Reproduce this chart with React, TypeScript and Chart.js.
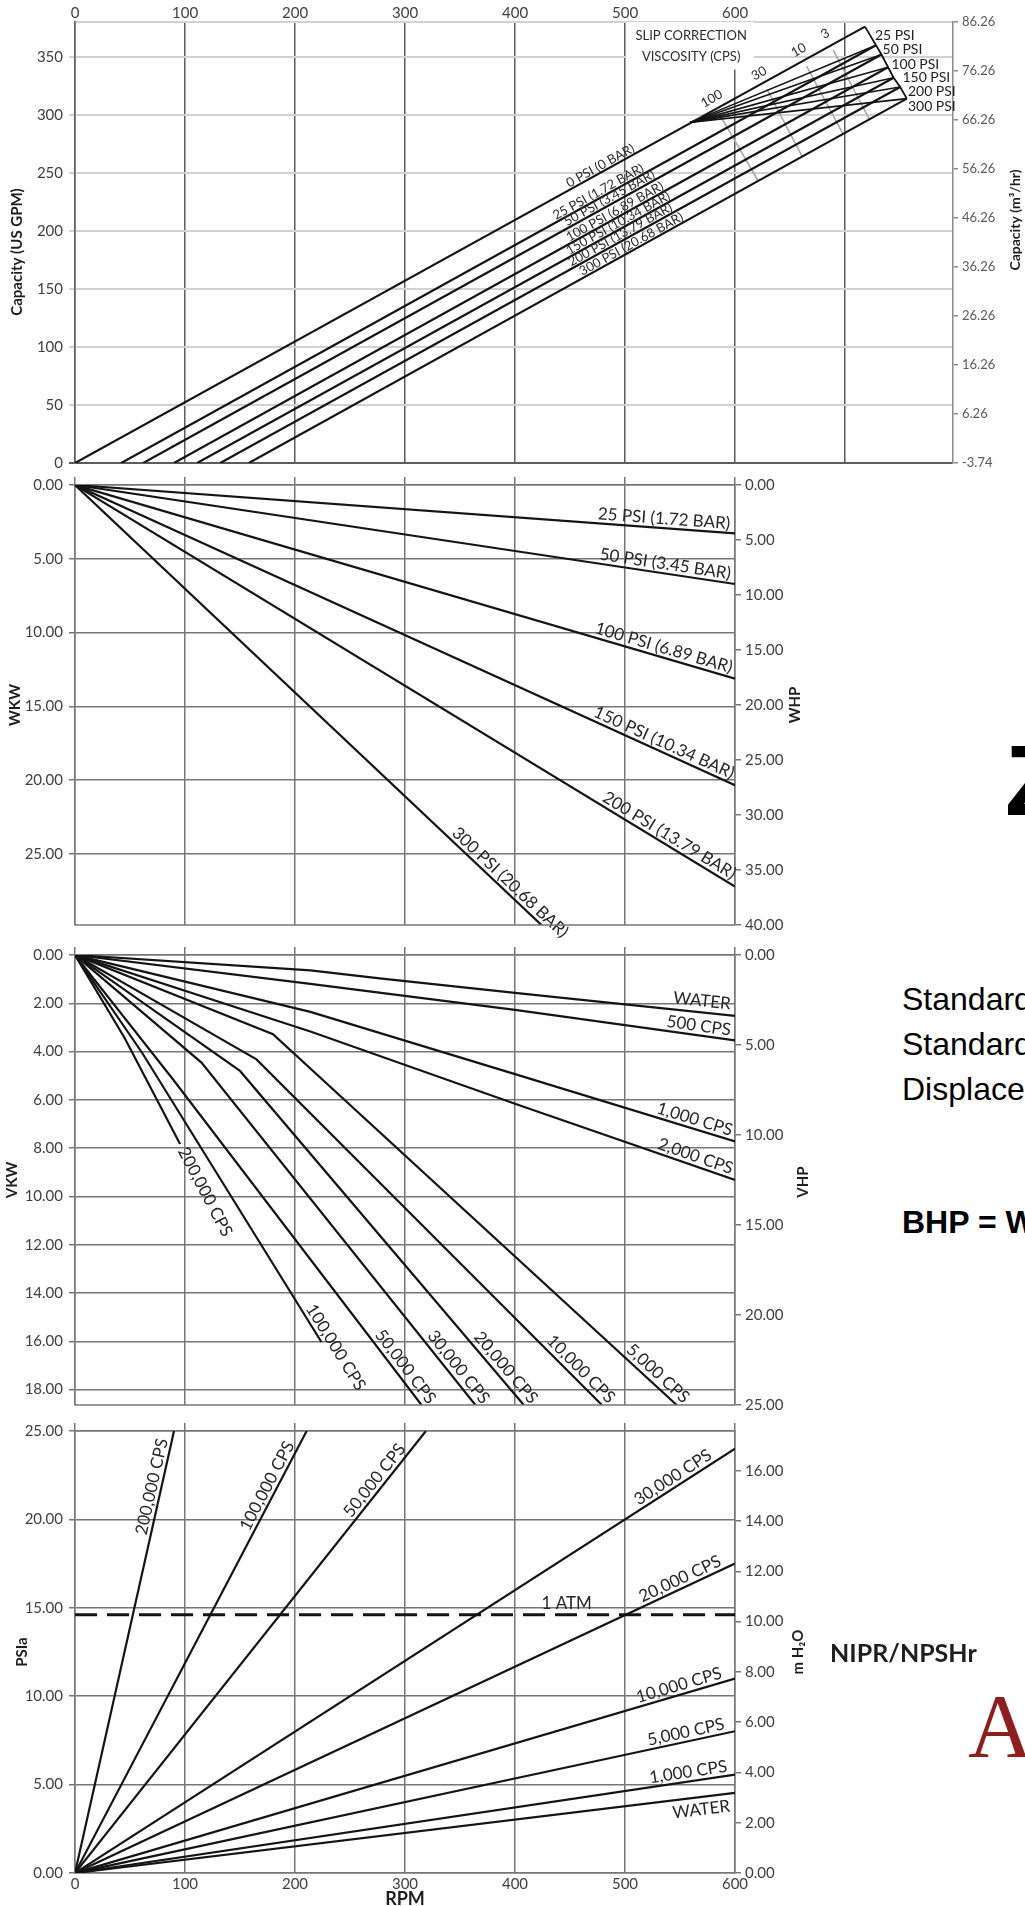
import React, { useEffect, useRef } from 'react';
import { Chart, registerables } from 'chart.js';

Chart.register(...registerables);

const FONT = 'Lato, "Open Sans", "DejaVu Sans", sans-serif';
const INK = '#141414';
const TXT = '#262626';
const TICK = '#3f3f3f';
const GRID = '#767676';
const LIGHT = '#d2d2d2';

// ---------------- Panel 1 : capacity ----------------
const capRpmTicks = [0, 100, 200, 300, 400, 500, 600, 700];
const capRpmTickLabels = ['0', '100', '200', '300', '400', '500', '600', ''];
const capGpmTicks = [0, 50, 100, 150, 200, 250, 300, 350];
const capM3Ticks = [-3.74, 6.26, 16.26, 26.26, 36.26, 46.26, 56.26, 66.26, 76.26, 86.26];
const capLineLabels = ['0 PSI (0 BAR)', '25 PSI (1.72 BAR)', '50 PSI (3.45 BAR)', '100 PSI (6.89 BAR)', '150 PSI (10.34 BAR)', '200 PSI (13.79 BAR)', '300 PSI (20.68 BAR)'];
const capEndLabels = ['25 PSI', '50 PSI', '100 PSI', '150 PSI', '200 PSI', '300 PSI'];
const capStartRpm = [0, 42, 62, 90, 111, 132, 158];
const capEndRpm = [718, 728, 733, 739, 744, 750, 756];
const capEndGpm = [376, 360, 352, 341, 332, 324, 314];
const capLabelRpm = [450, 438, 448, 450, 450, 452, 462];
const capEndLabelRpm = [727, 734, 742, 752, 757, 757];
const capEndLabelGpm = [368, 356, 343, 332, 320.5, 307];
const slipViscLabels = ['100', '30', '10', '3'];
const slipTopRpm = [586, 629, 665, 689];
const slipTopGpm = [300, 322, 342, 356];
const slipBotRpm = [621, 661, 698, 722];
const slipBotGpm = [243, 264, 283.5, 296];
const slipFanRpm = [559];
const slipFanGpm = [293.5];

// ---------------- Panel 2 : WKW / WHP ----------------
const rpmTicks = [0, 100, 200, 300, 400, 500, 600];
const wkwTicks = [0, 5, 10, 15, 20, 25];
const whpTicks = [0, 5, 10, 15, 20, 25, 30, 35, 40];
const whpLineLabels = ['25 PSI (1.72 BAR)', '50 PSI (3.45 BAR)', '100 PSI (6.89 BAR)', '150 PSI (10.34 BAR)', '200 PSI (13.79 BAR)', '300 PSI (20.68 BAR)'];
const whpAt600 = [4.4, 9.0, 17.6, 27.3, 36.5, 56.6];
const whpLabelRpm = [595, 595, 595, 595, 595, 440];

// ---------------- Panel 3 : VKW / VHP ----------------
const vkwTicks = [0, 2, 4, 6, 8, 10, 12, 14, 16, 18];
const vhpTicks = [0, 5, 10, 15, 20, 25];
const vhpLabels = ['WATER', '500 CPS', '1,000 CPS', '2,000 CPS', '5,000 CPS', '10,000 CPS', '20,000 CPS', '30,000 CPS', '50,000 CPS', '100,000 CPS', '200,000 CPS'];
const vhpWaterRpm = [0, 214, 277, 400, 600];
const vhpWater = [0, 0.85, 1.3, 2.1, 3.38];
const vhp500Rpm = [0, 214, 400, 600];
const vhp500 = [0, 1.6, 3.05, 4.74];
const vhp1kRpm = [0, 214, 400, 600];
const vhp1k = [0, 3.16, 6.62, 10.36];
const vhp2kRpm = [0, 214, 400, 600];
const vhp2k = [0, 4.25, 8.26, 12.5];
const vhp5kRpm = [0, 180, 547];
const vhp5k = [0, 4.4, 25];
const vhp10kRpm = [0, 165, 479];
const vhp10k = [0, 5.8, 25];
const vhp20kRpm = [0, 150, 408];
const vhp20k = [0, 6.44, 25];
const vhp30kRpm = [0, 115, 364];
const vhp30k = [0, 5.98, 25];
const vhp50kRpm = [0, 89, 315];
const vhp50k = [0, 6.9, 25];
const vhp100kRpm = [0, 61, 224];
const vhp100k = [0, 5.43, 21.5];
const vhp200kRpm = [0, 45, 95.5];
const vhp200k = [0, 4.6, 10.5];

// ---------------- Panel 4 : NIPR / NPSHr ----------------
const psiaTicks = [0, 5, 10, 15, 20, 25];
const mh2oTicks = [0, 2, 4, 6, 8, 10, 12, 14, 16];
const npsLabels = ['WATER', '1,000 CPS', '5,000 CPS', '10,000 CPS', '20,000 CPS', '30,000 CPS', '50,000 CPS', '100,000 CPS', '200,000 CPS'];
const npsEndRpm = [600, 600, 600, 600, 600, 600, 319, 210.6, 90];
const npsEndPsia = [4.53, 5.56, 8.02, 11.0, 17.5, 24.0, 25, 25, 25];
const npsLabelRpm = [594, 594, 592, 590, 590, 582, 304, 203, 88];
const atmPsia = 14.6;

// ---------------- helpers ----------------
const pts = (xs: number[], ys: number[]) => xs.map((x, i) => ({ x, y: ys[i] }));
const lineDs = (data: any[], yAxisID: string, extra: any = {}) => ({
  data, yAxisID, borderColor: INK, borderWidth: 2.2, pointRadius: 0, fill: false, tension: 0, ...extra,
});
const fixedTicks = (values: number[]) => (s: any) => { s.ticks = values.map((v) => ({ value: v })); };
const tickFont = { family: FONT, size: 15 };
const two = (v: any) => Number(v).toFixed(2);

function vAxis(pos: string, min: number, max: number, ticks: number[], width: number, o: any = {}) {
  return {
    type: 'linear', position: pos, min, max, reverse: !!o.reverse,
    afterBuildTicks: fixedTicks(ticks),
    afterFit: (s: any) => { s.width = width; },
    ticks: { font: o.font || tickFont, color: o.color || TICK, padding: o.padding ?? 4, autoSkip: false, callback: o.cb || two },
    grid: { display: true, drawOnChartArea: pos === 'left', color: o.gridColor || GRID, lineWidth: o.gridWidth || 1.5, tickLength: o.tickLength ?? 6, drawTicks: true },
    border: { display: true, color: o.borderColor || GRID, width: 1.5 },
  };
}
const topMarks = (max: number, ticks: number[]) => ({
  type: 'linear', position: 'top', min: 0, max,
  afterBuildTicks: fixedTicks(ticks),
  afterFit: (s: any) => { s.height = 8; },
  ticks: { display: false },
  grid: { color: GRID, lineWidth: 1.5, tickLength: 8, drawTicks: true },
  border: { display: true, color: GRID, width: 1.5 },
});

// ---------------- plugins ----------------
const annotPlugin = {
  id: 'annot',
  beforeDatasetsDraw(chart: any, _a: any, opts: any) {
    const ctx = chart.ctx;
    (opts.boxes || []).forEach((b: any) => {
      const xs = chart.scales.x; const ys = chart.scales[b.axis || 'y'];
      const x1 = xs.getPixelForValue(b.x1), x2 = xs.getPixelForValue(b.x2);
      const y1 = ys.getPixelForValue(b.y1), y2 = ys.getPixelForValue(b.y2);
      ctx.save(); ctx.fillStyle = '#ffffff';
      ctx.fillRect(Math.min(x1, x2), Math.min(y1, y2), Math.abs(x2 - x1), Math.abs(y2 - y1));
      ctx.restore();
    });
  },
  afterDatasetsDraw(chart: any, _a: any, opts: any) {
    const ctx = chart.ctx;
    const xS = chart.scales.x;
    (opts.lineLabels || []).forEach((it: any) => {
      const ds = chart.data.datasets[it.ds];
      const yS = chart.scales[ds.yAxisID || 'y'];
      const p = ds.data.map((q: any) => ({ x: xS.getPixelForValue(q.x), y: yS.getPixelForValue(q.y) }));
      const px = xS.getPixelForValue(it.at);
      let i = 0;
      while (i < p.length - 2 && px > p[i + 1].x) i++;
      const a = p[i], b = p[i + 1];
      const t = (px - a.x) / (b.x - a.x);
      const py = a.y + t * (b.y - a.y);
      const ang = Math.atan2(b.y - a.y, b.x - a.x);
      ctx.save();
      ctx.translate(px, py);
      ctx.rotate(ang);
      ctx.font = it.font || `17px ${FONT}`;
      ctx.fillStyle = it.color || TXT;
      ctx.textAlign = it.align || 'right';
      const gap = it.gap ?? 4;
      if (it.side === 'below') { ctx.textBaseline = 'top'; ctx.fillText(it.text, it.dx || 0, gap); }
      else if (it.side === 'middle') { ctx.textBaseline = 'middle'; ctx.fillText(it.text, it.dx || 0, 0); }
      else { ctx.textBaseline = 'alphabetic'; ctx.fillText(it.text, it.dx || 0, -gap); }
      ctx.restore();
    });
    (opts.valueTexts || []).forEach((it: any) => {
      const yS = chart.scales[it.axis || 'y'];
      const x = xS.getPixelForValue(it.x) + (it.dx || 0);
      const y = yS.getPixelForValue(it.y) + (it.dy || 0);
      ctx.save();
      ctx.translate(x, y);
      if (it.rot) ctx.rotate(it.rot);
      ctx.font = it.font || `14px ${FONT}`;
      ctx.fillStyle = it.color || TXT;
      ctx.textAlign = it.align || 'left';
      ctx.textBaseline = it.baseline || 'middle';
      ctx.fillText(it.text, 0, 0);
      ctx.restore();
    });
  },
  afterDraw(chart: any, _a: any, opts: any) {
    const ctx = chart.ctx;
    if (opts.frame) {
      const c = chart.chartArea;
      ctx.save(); ctx.strokeStyle = GRID; ctx.lineWidth = 1.5;
      ctx.beginPath(); ctx.moveTo(c.left, c.bottom); ctx.lineTo(c.right, c.bottom); ctx.stroke();
      ctx.restore();
    }
    (opts.titles || []).forEach((it: any) => {
      ctx.save();
      ctx.translate(it.x, it.y);
      if (it.rot) ctx.rotate(it.rot);
      ctx.font = it.font || `bold 15px ${FONT}`;
      ctx.fillStyle = it.color || '#1e1e1e';
      ctx.textAlign = 'center'; ctx.textBaseline = 'middle';
      ctx.fillText(it.text, 0, 0);
      ctx.restore();
    });
  },
};

const baseOptions = (padding: any, scales: any, annot: any) => ({
  animation: false, responsive: false, devicePixelRatio: 1, events: [],
  layout: { padding },
  plugins: { legend: { display: false }, tooltip: { enabled: false }, annot },
  scales,
});
const UP = -Math.PI / 2;

// ---------------- chart configs ----------------
function makeCapacity(): any {
  const datasets: any[] = [];
  capStartRpm.forEach((r0, i) => datasets.push(lineDs([{ x: r0, y: 0 }, { x: capEndRpm[i], y: capEndGpm[i] }], 'y')));
  datasets.push(lineDs(pts(capEndRpm, capEndGpm), 'y', { borderWidth: 1.8 }));
  for (let i = 1; i < capEndRpm.length; i++) {
    datasets.push(lineDs([{ x: slipFanRpm[0], y: slipFanGpm[0] }, { x: capEndRpm[i], y: capEndGpm[i] }], 'y', { borderWidth: 1.6 }));
  }
  slipTopRpm.forEach((r, i) => datasets.push(lineDs([{ x: r, y: slipTopGpm[i] }, { x: slipBotRpm[i], y: slipBotGpm[i] }], 'y', { borderColor: '#a8a8a8', borderWidth: 1.6 })));

  const lineLabels = capLineLabels.map((text, i) => ({ ds: i, text, at: capLabelRpm[i], align: 'left', side: 'above', gap: 2, font: `13px ${FONT}`, color: '#2b2b2b' }));
  const valueTexts: any[] = capEndLabels.map((text, i) => ({ x: capEndLabelRpm[i], y: capEndLabelGpm[i], text, font: `14px ${FONT}`, color: '#1e1e1e' }));
  valueTexts.push({ x: 560, y: 368, text: 'SLIP CORRECTION', align: 'center', font: `13px ${FONT}`, color: '#2b2b2b' });
  valueTexts.push({ x: 560, y: 350, text: 'VISCOSITY (CPS)', align: 'center', font: `13px ${FONT}`, color: '#2b2b2b' });
  slipViscLabels.forEach((text, i) => valueTexts.push({ x: slipTopRpm[i], y: slipTopGpm[i], dx: -8, dy: -16, text, align: 'center', rot: -0.52, font: `13px ${FONT}`, color: '#2b2b2b' }));

  return {
    type: 'line',
    data: { datasets },
    plugins: [annotPlugin],
    options: baseOptions({ left: 0, right: 0, top: 0, bottom: 14 }, {
      x: {
        type: 'linear', position: 'top', min: 0, max: 798,
        afterBuildTicks: fixedTicks(capRpmTicks),
        afterFit: (s: any) => { s.height = 22; },
        ticks: { font: tickFont, color: TICK, padding: 0, maxRotation: 0, autoSkip: false, callback: (_v: any, i: number) => capRpmTickLabels[i] },
        grid: { color: '#5c5c5c', lineWidth: 1.5, drawTicks: false },
        border: { display: true, color: LIGHT, width: 2 },
      },
      y: vAxis('left', 0, 380, capGpmTicks, 75, {
        cb: (v: any) => String(v), padding: 6, borderColor: '#5c5c5c',
        gridColor: (c: any) => (c.index === 0 ? '#5c5c5c' : LIGHT), gridWidth: 2,
      }),
      y2: vAxis('right', -3.74, 86.26, capM3Ticks, 72, { font: { family: FONT, size: 13 }, color: '#5a5a5a', padding: 4, tickLength: 5, gridColor: '#8a8a8a', borderColor: '#8a8a8a' }),
    }, {
      boxes: [{ x1: 501, x2: 617, y1: 339, y2: 380 }],
      lineLabels, valueTexts,
      titles: [
        { text: 'Capacity (US GPM)', x: 17, y: 252, rot: UP },
        { text: 'Capacity (m³/hr)', x: 1015, y: 220, rot: UP, font: `bold 14px ${FONT}` },
      ],
    }),
  };
}

function makeWhp(): any {
  const datasets = whpAt600.map((v) => lineDs([{ x: 0, y: 0 }, { x: 600, y: v }], 'y2'));
  const lineLabels = whpLineLabels.map((text, i) => ({ ds: i, text, at: whpLabelRpm[i], align: 'right', side: 'above', gap: 4 }));
  return {
    type: 'line', data: { datasets }, plugins: [annotPlugin],
    options: baseOptions({ left: 0, right: 0, top: 2, bottom: 12 }, {
      x: topMarks(600, rpmTicks),
      y: vAxis('left', 0, 29.83, wkwTicks, 75, { reverse: true, padding: 6 }),
      y2: vAxis('right', 0, 40, whpTicks, 105, { reverse: true }),
    }, {
      lineLabels, frame: true,
      titles: [{ text: 'WKW', x: 15, y: 235, rot: UP }, { text: 'WHP', x: 795, y: 235, rot: UP }],
    }),
  };
}

function makeVhp(): any {
  const series = [
    pts(vhpWaterRpm, vhpWater), pts(vhp500Rpm, vhp500), pts(vhp1kRpm, vhp1k), pts(vhp2kRpm, vhp2k),
    pts(vhp5kRpm, vhp5k), pts(vhp10kRpm, vhp10k), pts(vhp20kRpm, vhp20k), pts(vhp30kRpm, vhp30k),
    pts(vhp50kRpm, vhp50k), pts(vhp100kRpm, vhp100k), pts(vhp200kRpm, vhp200k),
  ];
  const datasets = series.map((d) => lineDs(d, 'y2'));
  const lineLabels: any[] = vhpLabels.map((text, i) => {
    const d = series[i];
    const end = d[d.length - 1].x;
    if (i < 4) return { ds: i, text, at: 595, align: 'right', side: 'above', gap: i === 0 ? 6 : 4 };
    if (i === 9) return { ds: i, text, at: end, align: 'center', side: 'above', gap: 4, dx: 12 };
    if (i === 10) return { ds: i, text, at: end, align: 'left', side: 'middle', dx: 5 };
    return { ds: i, text, at: end, align: 'right', side: 'above', gap: 5, dx: 4 };
  });
  return {
    type: 'line', data: { datasets }, plugins: [annotPlugin],
    options: baseOptions({ left: 0, right: 0, top: 2, bottom: 13 }, {
      x: topMarks(600, rpmTicks),
      y: vAxis('left', 0, 18.64, vkwTicks, 75, { reverse: true, padding: 6 }),
      y2: vAxis('right', 0, 25, vhpTicks, 105, { reverse: true }),
    }, {
      lineLabels, frame: true,
      titles: [{ text: 'VKW', x: 12, y: 240, rot: UP }, { text: 'VHP', x: 803, y: 242, rot: UP }],
    }),
  };
}

function makeNpsh(): any {
  const datasets: any[] = npsEndRpm.map((r, i) => lineDs([{ x: 0, y: 0 }, { x: r, y: npsEndPsia[i] }], 'y'));
  datasets.push(lineDs([{ x: 0, y: atmPsia }, { x: 600, y: atmPsia }], 'y', { borderWidth: 3, borderDash: [22, 10] }));
  const lineLabels = npsLabels.map((text, i) => ({ ds: i, text, at: npsLabelRpm[i], align: 'right', side: i === 0 ? 'below' : 'above', gap: 4 }));
  return {
    type: 'line', data: { datasets }, plugins: [annotPlugin],
    options: baseOptions({ left: 0, right: 0, top: 2, bottom: 0 }, {
      x: {
        type: 'linear', position: 'bottom', min: 0, max: 600,
        afterBuildTicks: fixedTicks(rpmTicks),
        afterFit: (s: any) => { s.height = 33; },
        ticks: { font: tickFont, color: TICK, padding: 2, maxRotation: 0, autoSkip: false, callback: (v: any) => String(v) },
        grid: { color: GRID, lineWidth: 1.5, drawTicks: false },
        border: { display: true, color: GRID, width: 1.5 },
      },
      xTop: { ...topMarks(600, rpmTicks), grid: { drawOnChartArea: false, color: GRID, lineWidth: 1.5, tickLength: 8 } },
      y: vAxis('left', 0, 25, psiaTicks, 75, { padding: 6 }),
      y2: vAxis('right', 0, 17.58, mh2oTicks, 105),
    }, {
      lineLabels,
      valueTexts: [{ x: 447, y: atmPsia, dy: -3, text: '1 ATM', align: 'center', baseline: 'bottom', font: `17px ${FONT}` }],
      titles: [
        { text: 'PSIa', x: 22, y: 236, rot: UP },
        { text: 'm H₂O', x: 798, y: 236, rot: UP },
        { text: 'RPM', x: 405, y: 483, font: `bold 18px ${FONT}` },
      ],
    }),
  };
}

function ChartCanvas({ left, top, width, height, make }: any) {
  const ref = useRef<HTMLCanvasElement>(null);
  useEffect(() => {
    const chart = new Chart(ref.current as HTMLCanvasElement, make());
    return () => chart.destroy();
  }, []);
  return <canvas ref={ref} width={width} height={height} style={{ position: 'absolute', left, top, width, height }} />;
}

const arial = '"Liberation Sans", Arial, Helvetica, sans-serif';
const side = (top: number, text: string, extra: any = {}) => (
  <div style={{ position: 'absolute', left: 902, top, fontFamily: arial, fontSize: 32, lineHeight: '32px', whiteSpace: 'nowrap', color: '#000', ...extra }}>{text}</div>
);

export default function App() {
  return (
    <div style={{ position: 'absolute', left: 0, top: 0, width: 1025, height: 1906, overflow: 'hidden', background: '#fff' }}>
      <ChartCanvas left={0} top={0} width={1025} height={478} make={makeCapacity} />
      <ChartCanvas left={0} top={470} width={840} height={470} make={makeWhp} />
      <ChartCanvas left={0} top={940} width={840} height={480} make={makeVhp} />
      <ChartCanvas left={0} top={1416} width={840} height={490} make={makeNpsh} />
      <div style={{ position: 'absolute', left: 1005, top: 730, fontFamily: arial, fontWeight: 700, fontSize: 100, lineHeight: '100px', color: '#000' }}>Z</div>
      {side(983, 'Standard')}
      {side(1028, 'Standard')}
      {side(1073, 'Displacement')}
      {side(1206, 'BHP = WHP + VHP', { fontWeight: 700 })}
      <div style={{ position: 'absolute', left: 830, top: 1640, fontFamily: FONT, fontWeight: 700, fontSize: 25, lineHeight: '25px', color: '#1e1e1e', whiteSpace: 'nowrap' }}>NIPR/NPSHr</div>
      <div style={{ position: 'absolute', left: 968, top: 1682, fontFamily: '"Liberation Serif", "DejaVu Serif", serif', fontSize: 90, lineHeight: '90px', color: '#8f1d1d' }}>A</div>
    </div>
  );
}
